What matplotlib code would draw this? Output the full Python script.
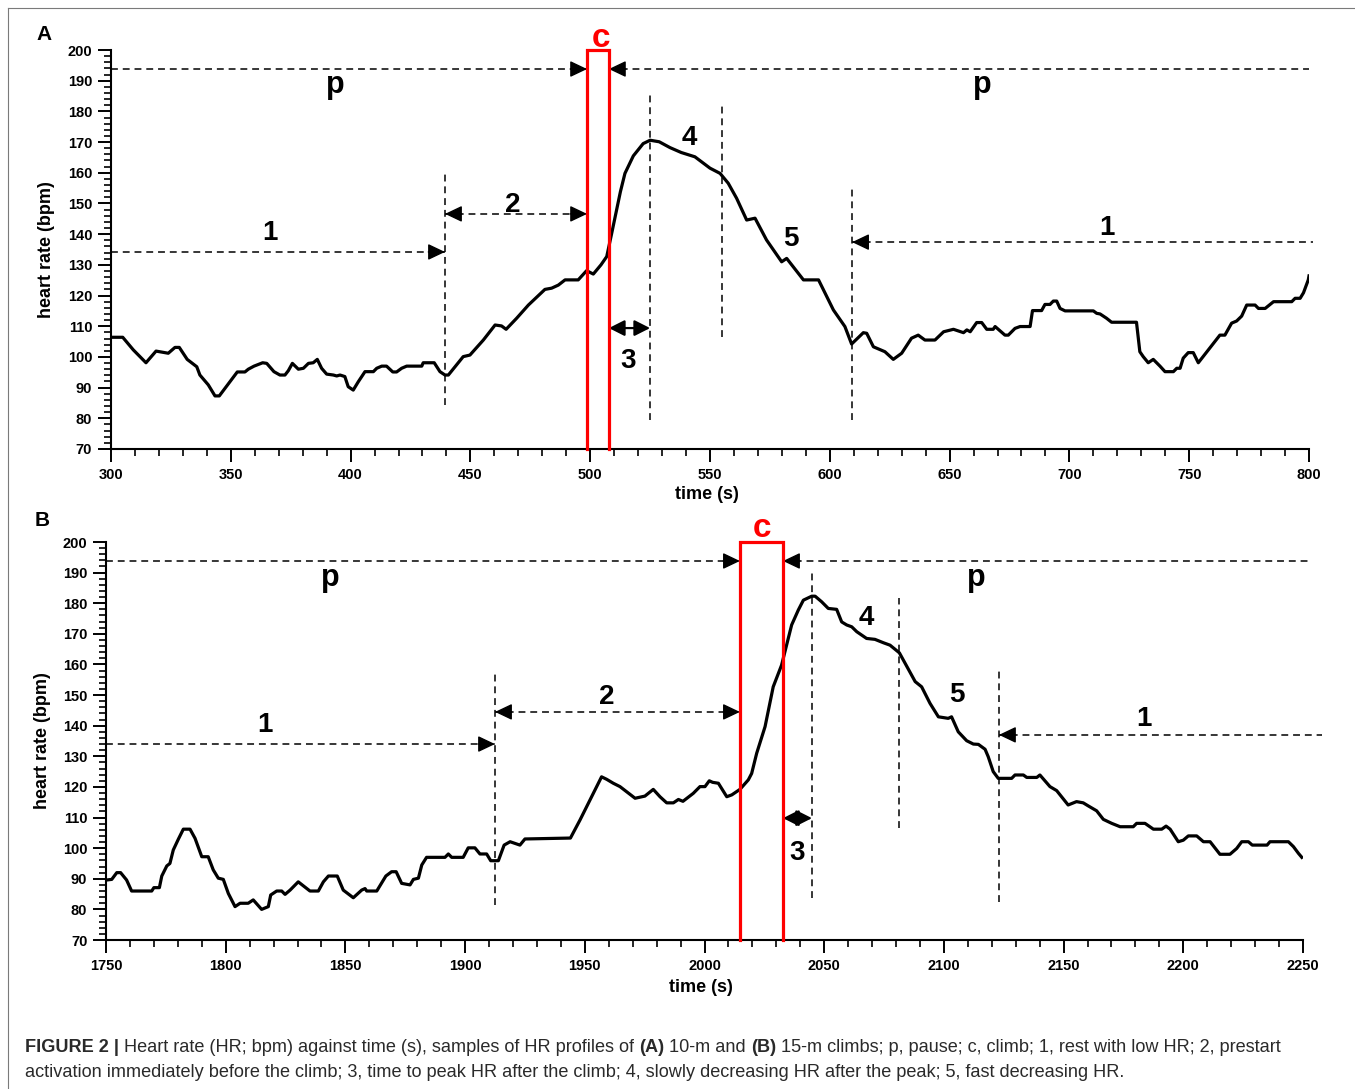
import matplotlib
matplotlib.use("Agg")
import matplotlib.pyplot as plt
from matplotlib.ticker import MultipleLocator
from matplotlib.lines import Line2D

# ---------------- data ----------------
time_a = [300, 304.9, 309.3, 314.6, 318.8, 323.9, 326.7, 328.5, 331.8, 335.8, 337.1, 340.6, 343.4, 345.2,
          352.7, 355.9, 357.3, 359.7, 363.3, 365.0, 368.0, 370.5, 372.6, 374.0, 375.7, 378.2, 380.3, 382.4,
          384.4, 386.1, 387.9, 390.0, 392.8, 394.2, 395.6, 397.6, 399.0, 401.1, 403.2, 406.0, 409.5, 410.9,
          413.0, 415.0, 417.6, 419.2, 421.3, 423.4, 429.7, 430.3, 434.9, 437.3, 439.4, 440.8, 447.0, 449.8,
          455.4, 460.3, 463.0, 464.9, 469.3, 474.2, 481.1, 483.9, 486.7, 489.5, 495.0, 498.5, 501.3, 504.5,
          506.9, 508.9, 512.6, 514.5, 518.0, 522.1, 525.0, 528.8, 533.3, 538.0, 543.7, 550.0, 554.2, 557.6,
          561.1, 565.3, 568.8, 573.6, 579.9, 582.0, 589.0, 595.3, 601.5, 606.3, 609.1, 614.0, 615.4, 618.2,
          623.0, 626.5, 630.0, 634.1, 636.9, 639.7, 643.9, 647.5, 651.6, 655.8, 657.2, 658.6, 661.3, 663.4,
          665.5, 668.2, 669.0, 673.1, 674.5, 677.3, 679.4, 683.6, 684.6, 688.4, 689.8, 691.9, 693.3, 694.7,
          696.1, 698.2, 710.0, 711.4, 712.8, 715.5, 717.6, 728.0, 729.4, 730.8, 732.9, 735.0, 737.8, 739.9,
          743.4, 744.8, 746.2, 747.5, 749.6, 751.7, 753.8, 762.8, 764.9, 767.7, 769.8, 771.9, 774.0, 777.5,
          778.9, 781.7, 785.2, 792.8, 794.2, 796.3, 797.7, 799.7, 800.0]
hr_a = [106.4, 106.4, 102.3, 98.1, 101.9, 101.2, 103.1, 103.1, 99.2, 96.8, 94.1, 90.9, 87.3, 87.3,
        95.1, 95.1, 96.0, 97.0, 98.1, 97.9, 95.2, 94.1, 94.1, 95.5, 97.9, 96.0, 96.3, 97.9,
        98.1, 99.2, 96.3, 94.4, 94.1, 93.8, 94.1, 93.6, 90.3, 89.2, 91.9, 95.2, 95.2, 96.3,
        97.0, 97.0, 95.1, 95.1, 96.3, 97.0, 97.0, 98.1, 98.1, 95.2, 94.1, 94.1, 100.1, 100.6,
        105.5, 110.4, 110.1, 109.0, 112.6, 116.9, 122.0, 122.4, 123.4, 125.1, 125.1, 128.1, 127.0, 130.0,
        132.7, 140.0, 153.8, 159.8, 165.5, 169.5, 170.6, 170.1, 168.2, 166.6, 165.2, 161.5, 159.8, 156.6,
        151.7, 144.6, 145.2, 138.1, 131.0, 132.1, 125.1, 125.1, 115.3, 109.9, 104.2, 107.9, 107.7, 103.3,
        101.7, 99.2, 101.2, 106.1, 107.1, 105.5, 105.5, 108.2, 109.0, 107.9, 108.8, 108.2, 111.2, 111.2,
        109.0, 109.0, 109.9, 107.1, 107.1, 109.3, 109.9, 109.9, 115.1, 115.1, 117.1, 117.1, 118.2, 118.2,
        115.8, 115.0, 115.0, 114.2, 114.0, 112.6, 111.3, 111.3, 101.7, 100.1, 98.1, 99.2, 97.0, 95.2,
        95.2, 96.3, 96.3, 99.6, 101.4, 101.4, 98.1, 107.1, 107.1, 111.0, 111.7, 113.3, 116.9, 116.9,
        115.8, 115.8, 118.0, 118.0, 119.1, 119.1, 120.9, 125.1, 126.4]

time_b = [1750.3, 1752.4, 1754.5, 1756.1, 1758.6, 1760.7, 1769.1, 1770.0, 1772.3, 1773.3, 1775.4, 1776.7,
          1778.1, 1780.2, 1782.3, 1785.1, 1787.2, 1790.0, 1792.7, 1794.8, 1796.9, 1799.0, 1801.1, 1803.9,
          1806.0, 1809.4, 1811.5, 1815.0, 1817.8, 1818.8, 1821.3, 1823.4, 1824.8, 1826.9, 1830.3, 1835.2,
          1838.7, 1840.8, 1842.9, 1846.6, 1849.1, 1853.3, 1856.8, 1858.2, 1858.9, 1863.1, 1866.9, 1869.3,
          1871.2, 1873.5, 1877.0, 1878.4, 1880.5, 1881.9, 1883.9, 1891.6, 1893.0, 1894.4, 1899.2, 1901.3,
          1904.1, 1906.2, 1909.0, 1910.7, 1913.9, 1916.3, 1918.8, 1922.9, 1925.0, 1944.0, 1948.0, 1957.0,
          1959.1, 1961.9, 1964.7, 1967.5, 1971.0, 1975.1, 1978.6, 1981.4, 1984.2, 1987.0, 1989.1, 1991.0,
          1995.3, 1998.1, 2000.2, 2002.0, 2003.4, 2005.8, 2009.3, 2011.4, 2014.8, 2018.3, 2019.7, 2021.8,
          2025.3, 2028.7, 2032.2, 2034.3, 2036.4, 2039.2, 2041.3, 2044.8, 2046.2, 2048.9, 2051.7, 2055.2,
          2057.3, 2059.4, 2061.5, 2063.6, 2067.7, 2071.2, 2074.7, 2077.5, 2081.4, 2083.8, 2088.0, 2090.7,
          2094.2, 2097.7, 2101.8, 2103.2, 2106.0, 2109.5, 2112.3, 2114.4, 2117.2, 2118.5, 2120.6, 2122.7,
          2128.3, 2129.7, 2133.2, 2134.6, 2138.8, 2140.1, 2144.3, 2147.1, 2151.9, 2155.4, 2158.2, 2160.3,
          2163.8, 2166.6, 2170.1, 2173.6, 2179.1, 2180.5, 2184.0, 2187.5, 2191.0, 2192.8, 2194.5, 2197.9,
          2200.0, 2202.1, 2205.6, 2208.4, 2211.2, 2215.3, 2219.5, 2222.3, 2224.4, 2227.2, 2228.8, 2235.0,
          2236.2, 2243.9, 2246.0, 2248.1, 2249.5]
hr_b = [89.6, 89.8, 92.0, 92.0, 89.6, 86.0, 86.0, 87.1, 87.1, 90.9, 94.2, 95.0,
        99.4, 102.9, 106.2, 106.2, 103.2, 97.2, 97.2, 92.9, 90.2, 89.8, 85.2, 80.9,
        82.0, 82.0, 83.1, 80.0, 80.9, 84.7, 86.0, 86.0, 84.9, 86.3, 89.0, 86.0,
        86.0, 89.0, 90.9, 90.9, 86.3, 83.8, 86.3, 86.8, 86.0, 86.0, 90.9, 92.3,
        92.3, 88.5, 88.0, 89.8, 90.2, 94.5, 97.0, 97.0, 98.1, 97.0, 97.0, 100.1,
        100.1, 98.1, 98.1, 95.9, 95.9, 101.0, 102.1, 101.0, 103.0, 103.3, 109.2, 123.3,
        122.5, 121.2, 120.1, 118.4, 116.3, 117.0, 119.2, 116.8, 114.8, 114.8, 115.9, 115.3,
        117.9, 120.1, 120.1, 122.0, 121.5, 121.2, 116.8, 117.4, 119.2, 122.3, 124.4, 131.0,
        139.7, 152.7, 159.8, 166.3, 172.9, 177.8, 181.0, 182.3, 182.3, 180.5, 178.3, 178.0,
        173.9, 172.9, 172.3, 170.7, 168.5, 168.2, 167.1, 166.3, 163.8, 160.4, 154.4, 152.7,
        147.3, 142.9, 142.4, 142.9, 138.0, 135.1, 134.0, 133.9, 132.3, 129.9, 125.0, 122.8,
        122.8, 123.9, 123.9, 123.1, 123.1, 123.9, 120.1, 118.8, 114.1, 115.2, 114.8, 113.8,
        112.2, 109.4, 108.1, 107.0, 107.0, 108.1, 108.1, 106.2, 106.2, 107.2, 106.2, 102.1,
        102.6, 104.0, 104.0, 102.1, 102.1, 98.0, 98.0, 99.9, 102.1, 102.1, 101.0, 101.0,
        102.1, 102.1, 100.5, 98.3, 97.0]

# phase boundaries (s) and annotation levels (bpm)
climb_a = [498.7, 507.8]
climb_b = [2014.8, 2032.8]
vlines_a = [[439.4, 84.3, 160.3], [525.0, 79.4, 186.3], [555.0, 106.5, 182.0], [609.3, 79.4, 155.0]]
vlines_b = [[1912.5, 81.4, 156.9], [2044.9, 83.7, 190.8], [2081.2, 106.6, 181.7], [2123.0, 82.4, 158.2]]
pause_level = 193.8
arrow_levels_a = [134.2, 146.6, 109.4, 137.4]   # 1, 2, 3, 1(right)
arrow_levels_b = [134.0, 144.5, 109.8, 137.0]
right_end_a = [800.0, 801.7]   # p, 1
right_end_b = [2252.0, 2258.0]
phase_labels = ["1", "2", "3", "4", "5", "1", "p", "p", "c"]
label_pos_a = [[366.4, 138.1], [467.8, 147.2], [515.8, 96.4], [541.2, 169.1], [583.7, 136.1],
               [715.7, 139.7], [393.5, 186.0], [663.5, 186.0], [504.3, 201.0]]
label_pos_b = [[1816.4, 137.9], [1959.3, 147.1], [2038.6, 96.1], [2067.5, 172.9], [2105.3, 147.7],
               [2183.6, 139.9], [1843.6, 185.6], [2113.4, 185.6], [2024.0, 201.6]]

caption_line1 = [("FIGURE 2 |", "bold"),
                 ("Heart rate (HR; bpm) against time (s), samples of HR profiles of", "normal"),
                 ("(A)", "bold"), ("10-m and", "normal"), ("(B)", "bold"),
                 ("15-m climbs; p, pause; c, climb; 1, rest with low HR; 2, prestart", "normal")]
caption_line2 = [("activation immediately before the climb; 3, time to peak HR after the climb; "
                  "4, slowly decreasing HR after the peak; 5, fast decreasing HR.", "normal")]

# ---------------- figure ----------------
plt.rcParams["font.family"] = ["Liberation Sans", "DejaVu Sans"]
plt.rcParams["font.weight"] = "bold"

W, H = 1355, 1089
fig = plt.figure(figsize=(W / 100, H / 100), dpi=100)


def rect(l, r, b, t):
    return [l / W, 1 - b / H, (r - l) / W, (b - t) / H]


axA = fig.add_axes(rect(111, 1309, 449, 50))
axB = fig.add_axes(rect(106, 1303, 940, 542))

DASH = (0, (4.5, 3.2))


def head(ax, x, y, direction):
    ax.annotate("", xy=(x, y), xytext=(-direction * 12, 0), textcoords="offset points",
                arrowprops=dict(arrowstyle="-|>,head_length=1.05,head_width=0.5", color="k",
                                lw=1, shrinkA=0, shrinkB=0), annotation_clip=False)


def hline(ax, x0, x1, y):
    ax.plot([x0, x1], [y, y], color="k", lw=1.1, ls=DASH, clip_on=False, zorder=2)


def panel(ax, t, hr, xlim, climb, vlines, levels, right_end, labels_pos):
    ax.set_xlim(*xlim)
    ax.set_ylim(70, 200)
    for s in ["top", "right"]:
        ax.spines[s].set_visible(False)
    for s in ["left", "bottom"]:
        ax.spines[s].set_linewidth(1.5)
    ax.xaxis.set_major_locator(MultipleLocator(50))
    ax.xaxis.set_minor_locator(MultipleLocator(10))
    ax.yaxis.set_major_locator(MultipleLocator(10))
    ax.yaxis.set_minor_locator(MultipleLocator(2))
    ax.tick_params(which="major", length=9.5, width=1.4, direction="out", labelsize=10.5, pad=4)
    ax.tick_params(which="minor", length=5, width=1.2, direction="out")
    ax.set_xlabel("time (s)", fontsize=13, fontweight="bold", va="top")
    ax.set_ylabel("heart rate (bpm)", fontsize=13, fontweight="bold")
    ax.patch.set_alpha(0)

    ax.plot(t, hr, color="k", lw=2.3, solid_joinstyle="round", zorder=3)

    # climb box
    c0, c1 = climb
    ax.plot([c0, c0, c1, c1], [70, 200, 200, 70], color="#ff0000", lw=2.3, clip_on=False, zorder=5,
            solid_joinstyle="miter")

    # vertical dashed separators
    for x, y0, y1 in vlines:
        ax.plot([x, x], [y0, y1], color="k", lw=1.1, ls=DASH, zorder=2)

    x_rest, x_peak, x_slow, x_fast = [v[0] for v in vlines]
    # pause arrows
    hline(ax, xlim[0], c0, pause_level)
    head(ax, c0, pause_level, +1)
    hline(ax, c1, right_end[0], pause_level)
    head(ax, c1, pause_level, -1)
    # 1 (left)
    hline(ax, xlim[0], x_rest, levels[0])
    head(ax, x_rest, levels[0], +1)
    # 2
    hline(ax, x_rest, c0, levels[1])
    head(ax, x_rest, levels[1], -1)
    head(ax, c0, levels[1], +1)
    # 3
    ax.annotate("", xy=(x_peak, levels[2]), xytext=(c1, levels[2]),
                arrowprops=dict(arrowstyle="<|-|>,head_length=0.95,head_width=0.48", color="k",
                                lw=1.6, shrinkA=0, shrinkB=0))
    # 1 (right)
    hline(ax, x_fast, right_end[1], levels[3])
    head(ax, x_fast, levels[3], -1)

    for lab, (x, y) in zip(phase_labels, labels_pos):
        if lab == "c":
            ax.text(x, y, lab, fontsize=24, fontweight="bold", color="#ff0000", ha="center",
                    va="baseline", clip_on=False)
        elif lab == "p":
            ax.text(x, y, lab, fontsize=22, fontweight="bold", ha="center", va="baseline")
        else:
            ax.text(x, y, lab, fontsize=20, fontweight="bold", ha="center", va="baseline")


panel(axA, time_a, hr_a, (300, 800), climb_a, vlines_a, arrow_levels_a, right_end_a, label_pos_a)
panel(axB, time_b, hr_b, (1750, 2250), climb_b, vlines_b, arrow_levels_b, right_end_b, label_pos_b)

axA.yaxis.set_label_coords(-0.0467, 0.5)
axB.yaxis.set_label_coords(-0.046, 0.5)
axA.xaxis.set_label_coords(0.4975, -0.093)
axB.xaxis.set_label_coords(0.497, -0.0985)

fig.text(44 / W, 1 - 34 / H, "A", fontsize=15, fontweight="bold", ha="center", va="center")
fig.text(42 / W, 1 - 521 / H, "B", fontsize=15, fontweight="bold", ha="center", va="center")

# figure frame (left and top edges visible)
fig.add_artist(Line2D([8 / W, 8 / W], [0, 1 - 8 / H], transform=fig.transFigure, color="#7a7a7a", lw=0.8))
fig.add_artist(Line2D([8 / W, 1], [1 - 8 / H, 1 - 8 / H], transform=fig.transFigure, color="#7a7a7a", lw=0.8))

# ---------------- caption ----------------
renderer = fig.canvas.get_renderer()
cap_family = ["Liberation Sans Narrow", "Liberation Sans", "DejaVu Sans"]
cap_color = "#2a2a2a"


def measure(txt, size, weight):
    t = fig.text(0, 0, txt, fontsize=size, fontweight=weight, family=cap_family)
    w = t.get_window_extent(renderer).width
    t.remove()
    return w


def line_width(parts, size):
    sp = measure("a a", size, "normal") - measure("aa", size, "normal")
    return sum(measure(p, size, w) for p, w in parts) + sp * (len(parts) - 1), sp


w12, _ = line_width(caption_line1, 12)
cap_size = 12 * (1285 - 25) / w12


def draw_line(parts, x_px, base_px, size):
    _, sp = line_width(parts, size)
    x = x_px
    for p, w in parts:
        t = fig.text(x / W, 1 - base_px / H, p, fontsize=size, fontweight=w, family=cap_family,
                     color=cap_color, ha="left", va="baseline")
        x += t.get_window_extent(renderer).width + sp


draw_line(caption_line1, 25, 1052, cap_size)
draw_line(caption_line2, 25, 1077, cap_size)

fig.savefig("out.png", dpi=100)
